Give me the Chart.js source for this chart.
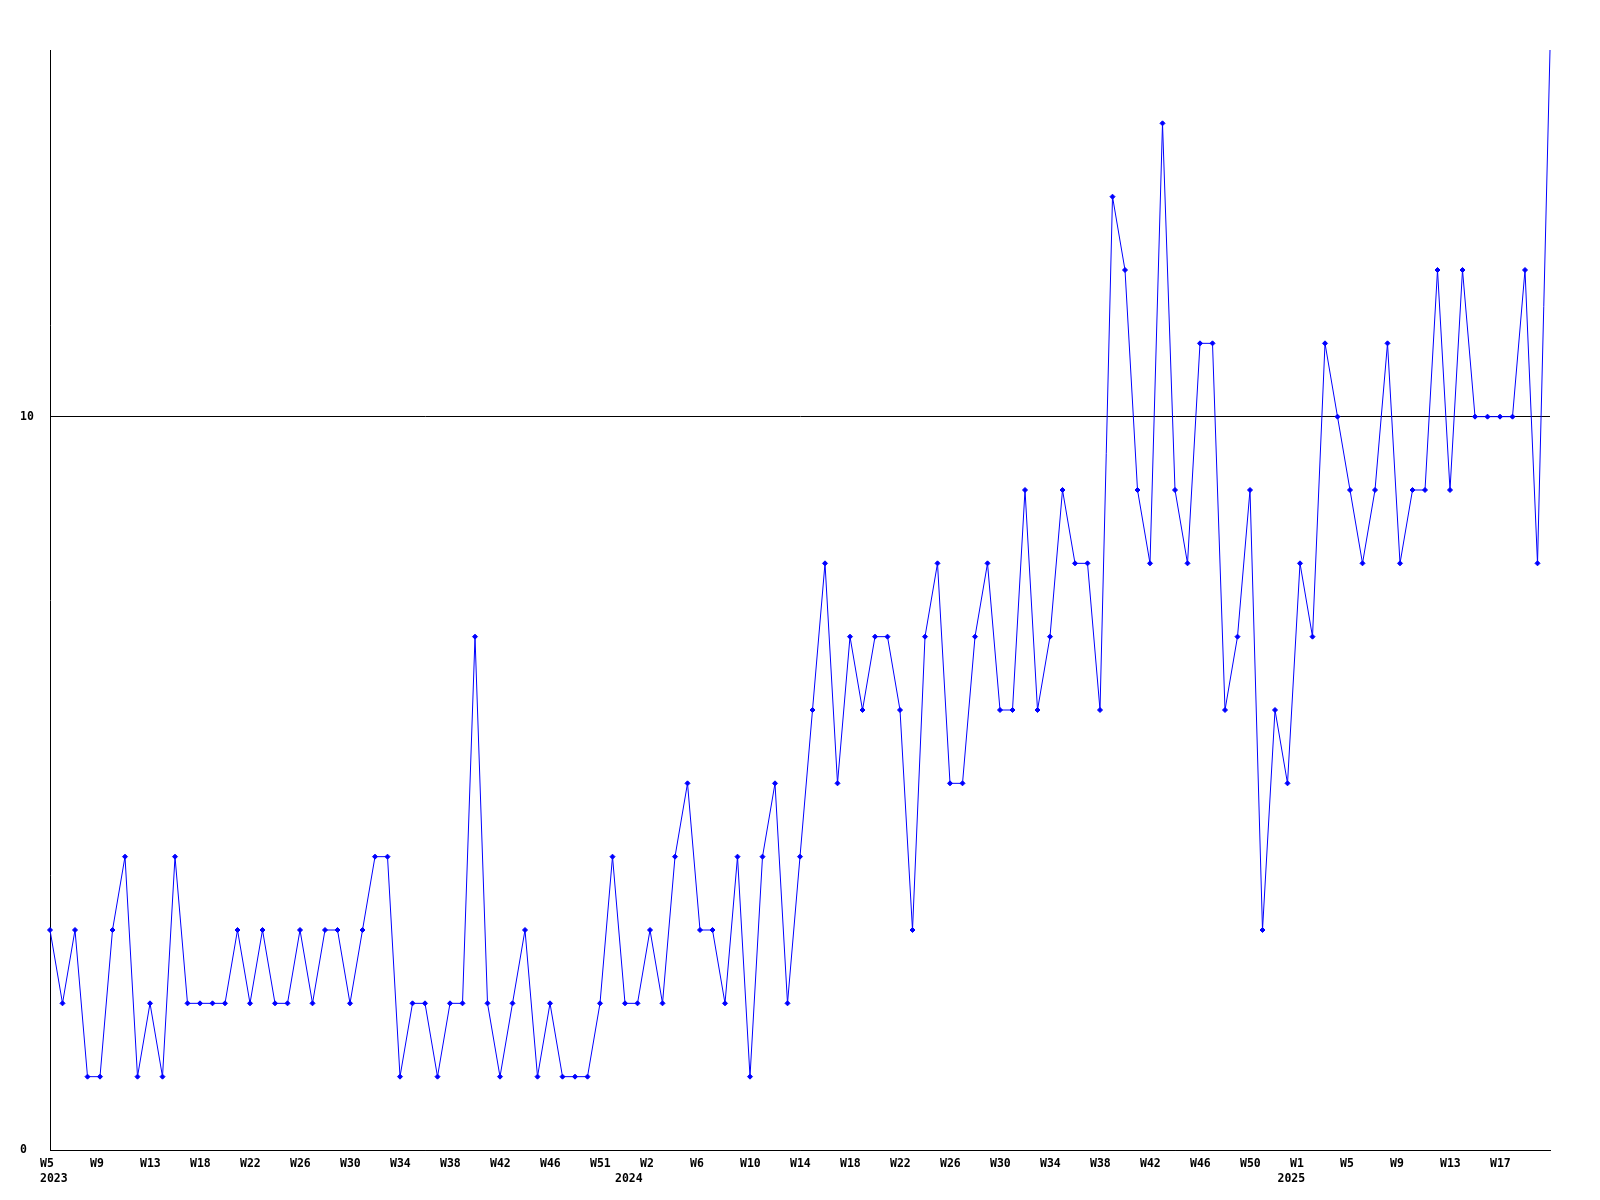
<!DOCTYPE html>
<html>
<head>
<meta charset="utf-8">
<script src="https://cdn.jsdelivr.net/npm/chart.js@4/dist/chart.umd.min.js"></script>
<style>
  html, body { margin: 0; padding: 0; background: #ffffff; }
  #wrap { width: 1600px; height: 1200px; }
</style>
</head>
<body>
<div id="wrap"><canvas id="c" width="1600" height="1200"></canvas></div>
<script>
// Week categories (one per data point)
const weekLabels = [
  // 2023
  'W5','W6','W7','W8','W9','W10','W11','W12','W13','W14','W15','W16',
  'W18','W19','W20','W21','W22','W23','W24','W25','W26','W27','W28','W29',
  'W30','W31','W32','W33','W34','W35','W36','W37','W38','W39','W40','W41',
  'W42','W43','W44','W45','W46','W47','W48','W49','W51','W52',
  // 2024
  'W0','W1','W2','W3','W4','W5','W6','W7','W8','W9','W10','W11','W12','W13',
  'W14','W15','W16','W17','W18','W19','W20','W21','W22','W23','W24','W25',
  'W26','W27','W28','W29','W30','W31','W32','W33','W34','W35','W36','W37',
  'W38','W39','W40','W41','W42','W43','W44','W45','W46','W47','W48','W49',
  'W50','W51','W52',
  // 2025
  'W0','W1','W2','W3','W4','W5','W6','W7','W8','W9','W10','W11','W12','W13',
  'W14','W15','W16','W17','W18','W19','W20','W21'
];
// Year labels and the category index where each year starts
const years = ['2023', '2024', '2025'];
const yearStarts = [0, 46, 99];

// Series values
const values = [
  3,2,3,1,1,3,4,1,2,1, 4,2,2,2,2,3,2,3,2,2,
  3,2,3,3,2,3,4,4,1,2, 2,1,2,2,7,2,1,2,3,1,
  2,1,1,1,2,4,2,2,3,2, 4,5,3,3,2,4,1,4,5,2,
  4,6,8,5,7,6,7,7,6,3, 7,8,5,5,7,8,6,6,9,6,
  7,9,8,8,6,13,12,9,8,14, 9,8,11,11,6,7,9,3,6,5,
  8,7,11,10,9,8,9,11,8,9, 9,12,9,12,10,10,10,10,12,8,
  15
];

// Y axis ticks
const yTicks = [0, 10];
const yMin = 0, yMax = 15;
const xTickEvery = 4;

const FONT = { family: '"DejaVu Sans Mono", "Liberation Mono", monospace', size: 11.5, weight: 'bold', lineHeight: 1.3 };

new Chart(document.getElementById('c'), {
  type: 'line',
  data: {
    labels: weekLabels,
    datasets: [{
      data: values,
      borderColor: '#0000ff',
      backgroundColor: '#0000ff',
      borderWidth: 1,
      tension: 0,
      fill: false,
      pointStyle: 'rectRot',
      pointRadius: (ctx) => (ctx.parsed && ctx.parsed.y >= yMax ? 0 : 2.5),
      pointBorderWidth: 1,
      pointBorderColor: '#0000ff',
      pointBackgroundColor: '#0000ff',
      clip: { left: 6, right: 6, top: 0, bottom: 6 }
    }]
  },
  options: {
    responsive: false,
    animation: false,
    events: [],
    layout: { padding: { left: 20, right: 50, top: 50, bottom: 0 } },
    plugins: { legend: { display: false }, tooltip: { enabled: false }, title: { display: false } },
    scales: {
      x: {
        type: 'category',
        offset: false,
        grid: { display: false, drawTicks: false },
        border: { display: true, color: '#000000', width: 1 },
        afterFit: (s) => { s.height = 50; },
        ticks: {
          autoSkip: false,
          maxRotation: 0,
          minRotation: 0,
          align: 'start',
          labelOffset: -10,
          padding: 7,
          color: '#000000',
          font: FONT,
          callback: function(val, i) {
            const lines = [];
            const showWeek = (i % xTickEvery === 0) && i < weekLabels.length - 1;
            const yi = yearStarts.indexOf(i);
            if (showWeek) lines.push(weekLabels[i]); else if (yi >= 0) lines.push('');
            if (yi >= 0) lines.push(years[yi]);
            return lines.length ? lines : '';
          }
        }
      },
      y: {
        min: yMin,
        max: yMax,
        afterFit: (s) => { s.width = 30; },
        afterBuildTicks: (s) => { s.ticks = yTicks.map(v => ({ value: v })); },
        grid: { display: true, color: '#000000', lineWidth: 1, drawTicks: false },
        border: { display: true, color: '#000000', width: 1 },
        ticks: {
          crossAlign: 'far',
          padding: 0,
          color: '#000000',
          font: FONT,
          callback: (v) => String(v)
        }
      }
    }
  }
});
</script>
</body>
</html>
